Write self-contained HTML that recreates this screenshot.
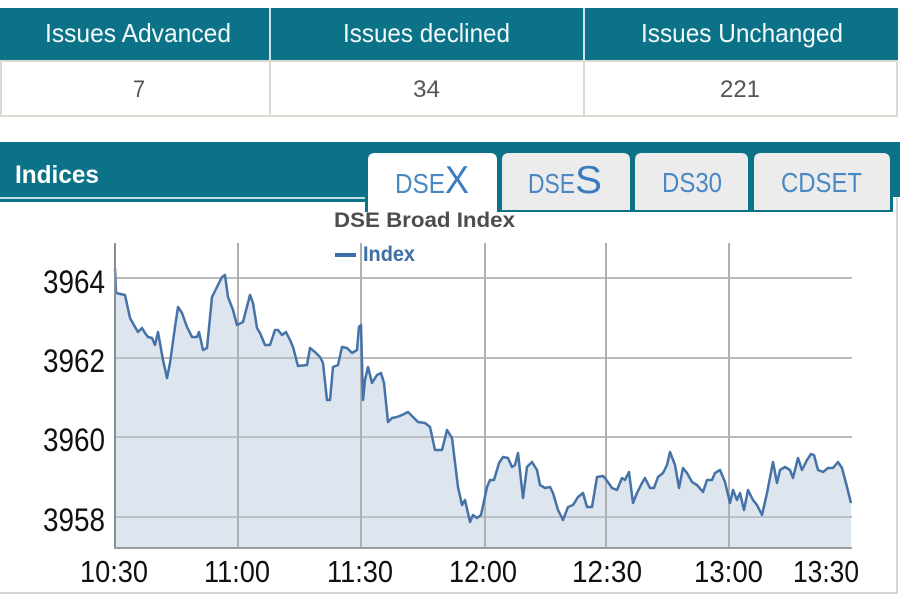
<!DOCTYPE html>
<html><head><meta charset="utf-8"><style>
html,body{margin:0;padding:0;background:#fff;width:900px;height:600px;overflow:hidden}
svg{display:block}
text{font-family:"Liberation Sans",Arial,sans-serif}
</style></head><body>
<svg width="900" height="600" viewBox="0 0 900 600" xmlns="http://www.w3.org/2000/svg">
<rect x="0" y="0" width="900" height="600" fill="#fff"/>
<!-- Top table -->
<rect x="0" y="8" width="898" height="52" fill="#0b7288"/>
<rect x="269" y="8" width="2" height="52" fill="#cfe3e8"/>
<rect x="583" y="8" width="2" height="52" fill="#cfe3e8"/>
<rect x="0" y="60" width="898" height="2" fill="#dcdad0"/>
<rect x="0" y="115" width="898" height="2" fill="#dcdad0"/>
<rect x="0" y="60" width="2" height="57" fill="#dcdad0"/>
<rect x="896" y="60" width="2" height="57" fill="#dcdad0"/>
<rect x="269" y="60" width="2" height="57" fill="#dcdad0"/>
<rect x="583" y="60" width="2" height="57" fill="#dcdad0"/>
<text x="45" y="42" font-size="26" fill="#f2f9fb" textLength="186" lengthAdjust="spacingAndGlyphs">Issues Advanced</text>
<text x="343" y="42" font-size="26" fill="#f2f9fb" textLength="167" lengthAdjust="spacingAndGlyphs">Issues declined</text>
<text x="641" y="42" font-size="26" fill="#f2f9fb" textLength="202" lengthAdjust="spacingAndGlyphs">Issues Unchanged</text>
<text x="133" y="97" font-size="24" fill="#555" textLength="12" lengthAdjust="spacingAndGlyphs">7</text>
<text x="413" y="97" font-size="24" fill="#555" textLength="27" lengthAdjust="spacingAndGlyphs">34</text>
<text x="720" y="97" font-size="24" fill="#555" textLength="40" lengthAdjust="spacingAndGlyphs">221</text>

<!-- Indices band -->
<rect x="0" y="142" width="900" height="55" fill="#0b7288"/>
<rect x="0" y="197" width="368" height="2" fill="#bfe0e6"/>
<rect x="0" y="199" width="368" height="3" fill="#0b7288"/>
<rect x="365" y="142" width="528" height="70" fill="#0b7288"/>
<text x="15" y="183" font-size="25" font-weight="bold" fill="#fff" textLength="84" lengthAdjust="spacingAndGlyphs">Indices</text>
<!-- tabs -->
<path d="M368,214 L368,160 Q368,153 375,153 L490,153 Q497,153 497,160 L497,214 Z" fill="#fff"/>
<path d="M502,210 L502,160 Q502,153 509,153 L623,153 Q630,153 630,160 L630,210 Z" fill="#ececec"/>
<path d="M635,210 L635,160 Q635,153 642,153 L741,153 Q748,153 748,160 L748,210 Z" fill="#ececec"/>
<path d="M754,210 L754,160 Q754,153 761,153 L883,153 Q890,153 890,160 L890,210 Z" fill="#ececec"/>
<text x="395" y="193" font-size="28" fill="#4a88c4" textLength="50" lengthAdjust="spacingAndGlyphs">DSE</text>
<text x="445" y="193" font-size="39" fill="#3b7cc0" textLength="24" lengthAdjust="spacingAndGlyphs">X</text>
<text x="528" y="193" font-size="28" fill="#4a88c4" textLength="47" lengthAdjust="spacingAndGlyphs">DSE</text>
<text x="575" y="193" font-size="39" fill="#3b7cc0" textLength="27" lengthAdjust="spacingAndGlyphs">S</text>
<text x="662" y="192" font-size="28" fill="#4a88c4" textLength="60" lengthAdjust="spacingAndGlyphs">DS30</text>
<text x="781" y="192" font-size="28" fill="#4a88c4" textLength="81" lengthAdjust="spacingAndGlyphs">CDSET</text>

<!-- panel borders -->
<rect x="896" y="198" width="2" height="396" fill="#d6d6d6"/>
<rect x="0" y="592" width="898" height="2" fill="#d6d6d6"/>

<!-- title & legend -->
<text x="334" y="227" font-size="21" font-weight="bold" fill="#4d4d4d" textLength="181" lengthAdjust="spacingAndGlyphs">DSE Broad Index</text>
<rect x="335" y="253" width="21" height="4" fill="#3d6fa6"/>
<text x="363" y="261" font-size="21" font-weight="bold" fill="#3d6fa6" textLength="52" lengthAdjust="spacingAndGlyphs">Index</text>

<!-- grid -->
<g stroke="#c4c4c4" stroke-width="2">
<line x1="115" y1="278" x2="852" y2="278"/>
<line x1="115" y1="358" x2="852" y2="358"/>
<line x1="115" y1="437" x2="852" y2="437"/>
<line x1="115" y1="517" x2="852" y2="517"/>
</g>
<!-- area -->
<path fill="#dde5ef" d="M115,548 L115,268 116,293 125,295 130,318 135,327 138,332 142,328 145,333 148,337 152,338 155,345 158,332 163,360 167,378 170,363 175,327 178,307 182,313 187,327 192,337 197,337 199,332 203,350 207,348 212,297 217,287 222,277 225,275 228,297 233,310 237,325 243,322 250,295 253,303 257,328 260,333 265,345 270,345 275,330 278,330 282,335 286,332 290,340 293,347 298,366 307,365 310,348 315,352 320,357 323,363 327,400 330,400 333,367 338,365 342,347 347,348 352,353 357,350 359,327 361,325 363,400 365,380 368,367 372,383 377,375 381,373 384,383 388,422 392,418 397,417 402,415 408,412 413,417 418,422 425,423 430,427 435,450 442,450 447,430 452,438 458,487 462,505 465,500 470,522 473,515 477,518 481,515 487,487 490,480 494,480 499,463 503,457 508,458 512,467 515,465 518,453 523,498 527,467 532,462 537,470 540,485 545,488 550,487 553,493 558,510 563,520 568,507 573,505 578,497 583,493 587,507 592,507 597,477 603,476 605,478 612,488 617,490 622,478 625,480 629,472 633,503 637,493 642,483 645,478 650,488 654,488 658,477 663,473 667,465 670,452 675,465 679,488 683,468 687,473 692,482 697,485 703,492 707,480 712,480 715,473 720,470 725,482 730,503 733,490 737,500 740,493 744,510 748,490 753,500 757,505 762,515 767,493 773,462 777,483 780,470 785,467 790,470 793,478 798,458 802,470 807,460 811,454 814,455 818,470 823,472 828,468 833,468 838,462 842,468 847,487 851,503 L851,548 Z"/>
<!-- grid lines over fill -->
<g stroke="#b4b8bd" stroke-width="2" opacity="0.8">
<line x1="115" y1="437" x2="852" y2="437"/>
<line x1="115" y1="517" x2="852" y2="517"/>
<line x1="115" y1="358" x2="852" y2="358"/>
<line x1="115" y1="278" x2="852" y2="278"/>
</g>
<g stroke="#b0b0b0" stroke-width="2">
<line x1="238" y1="243" x2="238" y2="548"/>
<line x1="361" y1="243" x2="361" y2="548"/>
<line x1="485" y1="243" x2="485" y2="548"/>
<line x1="606" y1="243" x2="606" y2="548"/>
<line x1="729" y1="243" x2="729" y2="548"/>
</g>
<!-- series line -->
<polyline fill="none" stroke="#4572a7" stroke-width="2.5" stroke-linejoin="round" points="115,268 116,293 125,295 130,318 135,327 138,332 142,328 145,333 148,337 152,338 155,345 158,332 163,360 167,378 170,363 175,327 178,307 182,313 187,327 192,337 197,337 199,332 203,350 207,348 212,297 217,287 222,277 225,275 228,297 233,310 237,325 243,322 250,295 253,303 257,328 260,333 265,345 270,345 275,330 278,330 282,335 286,332 290,340 293,347 298,366 307,365 310,348 315,352 320,357 323,363 327,400 330,400 333,367 338,365 342,347 347,348 352,353 357,350 359,327 361,325 363,400 365,380 368,367 372,383 377,375 381,373 384,383 388,422 392,418 397,417 402,415 408,412 413,417 418,422 425,423 430,427 435,450 442,450 447,430 452,438 458,487 462,505 465,500 470,522 473,515 477,518 481,515 487,487 490,480 494,480 499,463 503,457 508,458 512,467 515,465 518,453 523,498 527,467 532,462 537,470 540,485 545,488 550,487 553,493 558,510 563,520 568,507 573,505 578,497 583,493 587,507 592,507 597,477 603,476 605,478 612,488 617,490 622,478 625,480 629,472 633,503 637,493 642,483 645,478 650,488 654,488 658,477 663,473 667,465 670,452 675,465 679,488 683,468 687,473 692,482 697,485 703,492 707,480 712,480 715,473 720,470 725,482 730,503 733,490 737,500 740,493 744,510 748,490 753,500 757,505 762,515 767,493 773,462 777,483 780,470 785,467 790,470 793,478 798,458 802,470 807,460 811,454 814,455 818,470 823,472 828,468 833,468 838,462 842,468 847,487 851,503"/>
<!-- axes -->
<line x1="115" y1="243" x2="115" y2="549" stroke="#8a8f96" stroke-width="2"/>
<line x1="114" y1="548" x2="852" y2="548" stroke="#9a9ea4" stroke-width="2"/>
<!-- y labels -->
<g font-size="32" fill="#111">
<text x="43" y="293" textLength="62" lengthAdjust="spacingAndGlyphs">3964</text>
<text x="43" y="372" textLength="62" lengthAdjust="spacingAndGlyphs">3962</text>
<text x="43" y="451" textLength="62" lengthAdjust="spacingAndGlyphs">3960</text>
<text x="43" y="531" textLength="62" lengthAdjust="spacingAndGlyphs">3958</text>
</g>
<!-- x labels -->
<g font-size="31" fill="#111">
<text x="80" y="582" textLength="68" lengthAdjust="spacingAndGlyphs">10:30</text>
<text x="204" y="582" textLength="66" lengthAdjust="spacingAndGlyphs">11:00</text>
<text x="327" y="582" textLength="66" lengthAdjust="spacingAndGlyphs">11:30</text>
<text x="449" y="582" textLength="68" lengthAdjust="spacingAndGlyphs">12:00</text>
<text x="572" y="582" textLength="70" lengthAdjust="spacingAndGlyphs">12:30</text>
<text x="694" y="582" textLength="69" lengthAdjust="spacingAndGlyphs">13:00</text>
<text x="793" y="582" textLength="66" lengthAdjust="spacingAndGlyphs">13:30</text>
</g>
</svg>
</body></html>
